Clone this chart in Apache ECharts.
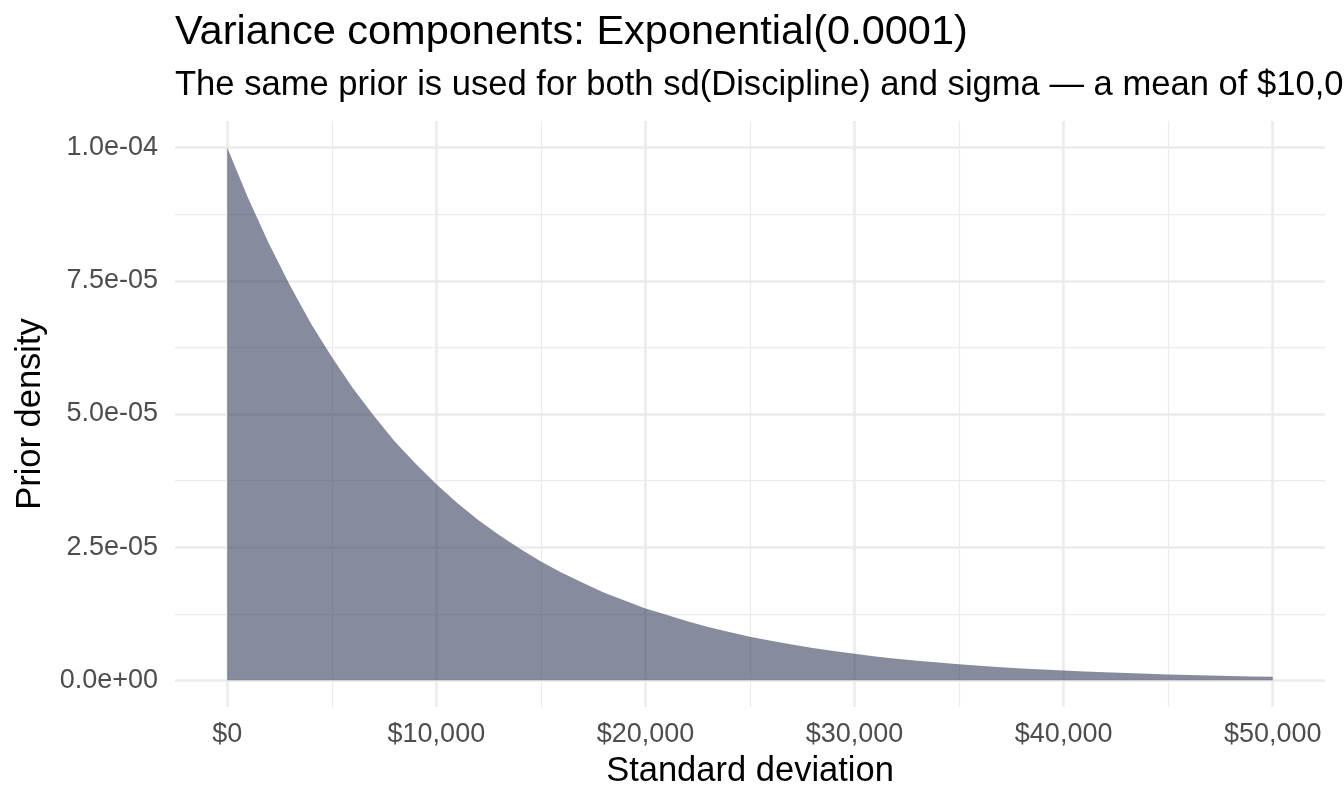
<!DOCTYPE html>
<html>
<head>
<meta charset="utf-8">
<style>
  html, body { margin: 0; padding: 0; background: #ffffff; }
  #chart { width: 1344px; height: 806px; }
</style>
<script src="https://cdn.jsdelivr.net/npm/echarts@6/dist/echarts.min.js"></script>
</head>
<body>
<div id="chart"></div>
<script>
// ---- Data ----
const titleText = "Variance components: Exponential(0.0001)";
const subtitleText = "The same prior is used for both sd(Discipline) and sigma \u2014 a mean of $10,000";
const xAxisTitle = "Standard deviation";
const yAxisTitle = "Prior density";

// standard deviation grid (dollars)
const sdValues = [
  0, 1000, 2000, 3000, 4000, 5000, 6000, 7000, 8000, 9000,
  10000, 11000, 12000, 13000, 14000, 15000, 16000, 17000, 18000, 19000,
  20000, 21000, 22000, 23000, 24000, 25000, 26000, 27000, 28000, 29000,
  30000, 31000, 32000, 33000, 34000, 35000, 36000, 37000, 38000, 39000,
  40000, 41000, 42000, 43000, 44000, 45000, 46000, 47000, 48000, 49000,
  50000
];
// prior density
const densityValues = [
  1.000e-4, 9.05e-5, 8.19e-5, 7.41e-5, 6.70e-5, 6.07e-5, 5.49e-5, 4.97e-5, 4.49e-5, 4.07e-5,
  3.68e-5, 3.33e-5, 3.01e-5, 2.73e-5, 2.47e-5, 2.23e-5, 2.02e-5, 1.83e-5, 1.65e-5, 1.50e-5,
  1.35e-5, 1.23e-5, 1.11e-5, 1.00e-5, 9.07e-6, 8.21e-6, 7.43e-6, 6.72e-6, 6.08e-6, 5.50e-6,
  4.98e-6, 4.50e-6, 4.08e-6, 3.69e-6, 3.34e-6, 3.02e-6, 2.73e-6, 2.47e-6, 2.24e-6, 2.02e-6,
  1.83e-6, 1.66e-6, 1.50e-6, 1.36e-6, 1.23e-6, 1.11e-6, 1.01e-6, 9.1e-7, 8.2e-7, 7.4e-7,
  6.7e-7
];

// tick values
const xMajorTicks = [0, 10000, 20000, 30000, 40000, 50000];
const xMinorTicks = [5000, 15000, 25000, 35000, 45000];
const yMajorTicks = [0, 2.5e-5, 5e-5, 7.5e-5, 1e-4];
const yMinorTicks = [1.25e-5, 3.75e-5, 6.25e-5, 8.75e-5];

// ---- Chart ----
const FONT = "'Liberation Sans', Arial, Helvetica, sans-serif";
const GRID_COLOR = '#EBEBEB';
const LABEL_COLOR = '#4D4D4D';

function fmtSci(v) {
  if (Math.abs(v) < 1e-15) return '0.0e+00';
  const s = Number(v).toExponential(1); // e.g. 1.0e-4
  const m = s.match(/^(-?[\d.]+)e([+-])(\d+)$/);
  if (!m) return s;
  const exp = m[3].length < 2 ? '0' + m[3] : m[3];
  return m[1] + 'e' + m[2] + exp;
}
function fmtDollar(v) {
  return '$' + Math.round(v).toLocaleString('en-US');
}

const data = sdValues.map((x, i) => [x, densityValues[i]]);

const chart = echarts.init(document.getElementById('chart'), null, { renderer: 'canvas' });

const option = {
  backgroundColor: '#ffffff',
  animation: false,
  title: [
    {
      text: titleText,
      left: 175, top: 12, padding: 0,
      textStyle: { fontFamily: FONT, fontSize: 41.5, fontWeight: 'normal', color: '#000000' }
    },
    {
      text: subtitleText,
      left: 175, top: 68, padding: 0,
      textStyle: { fontFamily: FONT, fontSize: 34.6, fontWeight: 'normal', color: '#000000' }
    }
  ],
  grid: { left: 175, right: 19, top: 121, bottom: 99, containLabel: false },
  xAxis: [
    {
      type: 'value',
      min: -2500, max: 52500,
      axisLine: { show: false },
      axisTick: { show: false, customValues: xMajorTicks },
      axisLabel: {
        show: true, customValues: xMajorTicks, margin: 14,
        fontFamily: FONT, fontSize: 27, color: LABEL_COLOR,
        formatter: fmtDollar
      },
      splitLine: { show: true, lineStyle: { color: GRID_COLOR, width: 2.5 } }
    },
    {
      type: 'value',
      min: -2500, max: 52500,
      position: 'bottom',
      axisLine: { show: false },
      axisTick: { show: false, customValues: xMinorTicks },
      axisLabel: { show: false, customValues: xMinorTicks },
      splitLine: { show: true, lineStyle: { color: GRID_COLOR, width: 1.25 } }
    }
  ],
  yAxis: [
    {
      type: 'value',
      min: -5e-6, max: 1.05e-4,
      axisLine: { show: false },
      axisTick: { show: false, customValues: yMajorTicks },
      axisLabel: {
        show: true, customValues: yMajorTicks, margin: 17,
        fontFamily: FONT, fontSize: 27, color: LABEL_COLOR,
        formatter: fmtSci
      },
      splitLine: { show: true, lineStyle: { color: GRID_COLOR, width: 2.5 } }
    },
    {
      type: 'value',
      min: -5e-6, max: 1.05e-4,
      position: 'left',
      axisLine: { show: false },
      axisTick: { show: false, customValues: yMinorTicks },
      axisLabel: { show: false, customValues: yMinorTicks },
      splitLine: { show: true, lineStyle: { color: GRID_COLOR, width: 1.25 } }
    }
  ],
  graphic: [
    {
      type: 'text', x: 750, y: 771, silent: true,
      style: {
        text: xAxisTitle, fontFamily: FONT, fontSize: 34.5, fill: '#000000',
        align: 'center', verticalAlign: 'middle'
      }
    },
    {
      type: 'text', x: 30, y: 414, rotation: Math.PI / 2, silent: true,
      style: {
        text: yAxisTitle, fontFamily: FONT, fontSize: 34.5, fill: '#000000',
        align: 'center', verticalAlign: 'middle'
      }
    }
  ],
  series: [
    {
      type: 'line',
      xAxisIndex: 0, yAxisIndex: 0,
      data: data,
      showSymbol: false,
      symbol: 'none',
      smooth: false,
      lineStyle: { width: 0, opacity: 0 },
      areaStyle: { color: 'rgb(53,62,94)', opacity: 0.6, origin: 0 },
      silent: true
    }
  ]
};

chart.setOption(option);
</script>
</body>
</html>
